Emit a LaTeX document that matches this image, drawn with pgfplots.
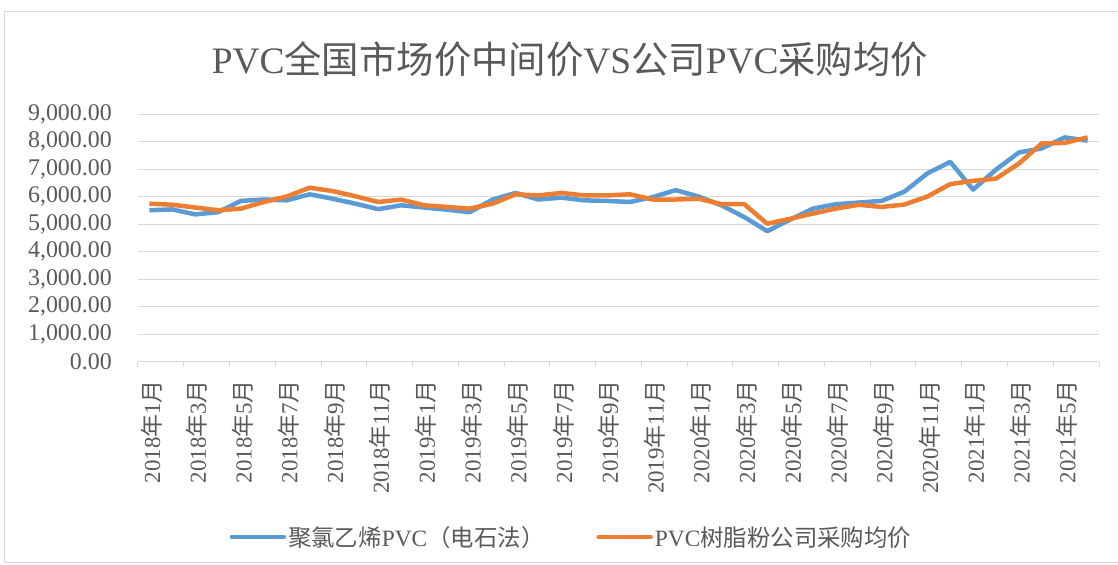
\documentclass[border=0pt]{standalone}
\usepackage{pgfplots}
\pgfplotsset{compat=1.18}
\usepackage{fontspec}
\setmainfont{Liberation Serif}
\newfontfamily\cjk{Noto Sans CJK SC}
\definecolor{textc}{HTML}{595959}
\definecolor{gridc}{HTML}{D9D9D9}
\definecolor{blueS}{HTML}{5B9BD5}
\definecolor{orangeS}{HTML}{ED7D31}
\newcommand{\ym}[2]{#1{\cjk 年}#2{\cjk 月}}
\pgfplotstableread{
i blue orange
0 5500 5740
1 5530 5700
2 5350 5600
3 5430 5500
4 5840 5560
5 5890 5800
6 5860 6000
7 6080 6320
8 5920 6200
9 5740 6010
10 5540 5800
11 5680 5890
12 5600 5680
13 5520 5620
14 5430 5560
15 5890 5740
16 6130 6080
17 5890 6040
18 5960 6130
19 5860 6040
20 5840 6040
21 5800 6080
22 5980 5890
23 6230 5890
24 6000 5920
25 5680 5720
26 5250 5720
27 4740 5010
28 5160 5190
29 5560 5380
30 5720 5560
31 5780 5700
32 5840 5620
33 6180 5710
34 6840 6000
35 7260 6450
36 6250 6570
37 6980 6650
38 7600 7200
39 7750 7930
40 8150 7950
41 8030 8150
}\datatab
\begin{document}
\begin{tikzpicture}
\path[use as bounding box] (-138bp,-203.5bp) rectangle (980bp,361.5bp);
\draw[gridc, line width=1bp] (-133bp,349.5bp) rectangle (995bp,-200.5bp);
\node[text=textc, font=\fontsize{37.5}{40}\selectfont] at (432bp,302bp)
  {PVC{\cjk 全国市场价中间价}VS{\cjk 公司}PVC{\cjk 采购均价}};
\begin{axis}[
  at={(0,0)}, anchor=south west,
  scale only axis, width=961bp, height=247.5bp,
  xmin=-0.5, xmax=41.5, ymin=0, ymax=9000,
  axis x line*=bottom, axis y line*=left,
  x axis line style={draw=gridc, line width=1bp},
  y axis line style={draw=none},
  ytick={0,1000,...,9000},
  ymajorgrids, grid style={draw=gridc, line width=1bp},
  ytick style={draw=none},
  xtick={0,2,...,40},
  xticklabels={\ym{2018}{1},\ym{2018}{3},\ym{2018}{5},\ym{2018}{7},\ym{2018}{9},\ym{2018}{11},
    \ym{2019}{1},\ym{2019}{3},\ym{2019}{5},\ym{2019}{7},\ym{2019}{9},\ym{2019}{11},
    \ym{2020}{1},\ym{2020}{3},\ym{2020}{5},\ym{2020}{7},\ym{2020}{9},\ym{2020}{11},
    \ym{2021}{1},\ym{2021}{3},\ym{2021}{5}},
  minor xtick={-0.5,1.5,...,41.5},
  xtick style={draw=gridc, line width=1bp},
  major x tick style={draw=none},
  tick align=outside, major tick length=0bp, minor tick length=5bp,
  xticklabel style={rotate=90, anchor=east, inner sep=0pt, xshift=-18.5bp, yshift=-2bp},
  yticklabel style={anchor=east, inner sep=0pt, xshift=-26bp},
  tick label style={text=textc},
  xticklabel style={font=\fontsize{23}{25}\selectfont},
  yticklabel style={font=\fontsize{24}{26}\selectfont},
  /pgf/number format/.cd, fixed, fixed zerofill, precision=2, 1000 sep={,}, assume math mode=true,
  /pgfplots/.cd,
  legend style={at={(0.4510,-0.709)}, anchor=center, draw=none, fill=none,
    font=\fontsize{23.5}{26}\selectfont, text=textc,
    legend columns=2,
    /tikz/every even column/.append style={column sep=50bp}},
  legend image code/.code={\draw[#1, line width=4.5bp, line cap=round] (0bp,0bp) -- (52bp,0bp);},
]
\addplot[blueS, line width=4.5bp, line join=round] table[x=i, y=blue] {\datatab};
\addlegendentry{{\cjk 聚氯乙烯}PVC{\cjk （电石法）}}
\addplot[orangeS, line width=4.5bp, line join=round] table[x=i, y=orange] {\datatab};
\addlegendentry{PVC{\cjk 树脂粉公司采购均价}}
\end{axis}
\end{tikzpicture}
\end{document}
